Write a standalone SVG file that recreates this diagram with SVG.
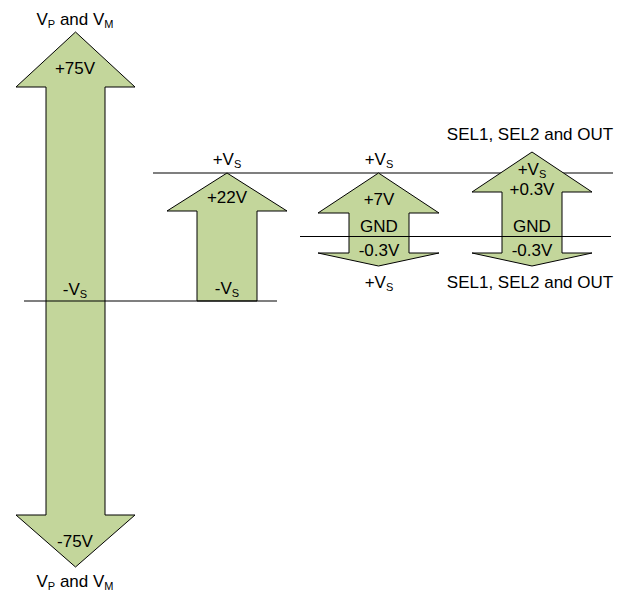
<svg xmlns="http://www.w3.org/2000/svg" width="629" height="592" viewBox="0 0 629 592">
<style>
.arr{fill:#c3d69b;stroke:#000;stroke-width:1;stroke-linejoin:miter}
.ln{stroke:#000;stroke-width:1.2;fill:none}
text{font-family:"Liberation Sans",Arial,sans-serif;font-size:17px;fill:#000;text-anchor:middle}
.sub{font-size:11px}
</style>
<rect width="629" height="592" fill="#fff"/>
<g id="connectors-top">
<line class="ln" x1="153" y1="173" x2="613" y2="173"/>
</g>
<g id="vpvm">
<path class="arr" d="M75.5,32 L135,87 L105,87 L105,515 L135,515 L75.5,567 L16,515 L46,515 L46,87 L16,87 Z"/>
<text x="75" y="25">V<tspan class="sub" dy="3">P</tspan><tspan dy="-3"> and V</tspan><tspan class="sub" dy="3">M</tspan></text>
<text x="75" y="74">+75V</text>
<text x="75" y="547">-75V</text>
<text x="75" y="587">V<tspan class="sub" dy="3">P</tspan><tspan dy="-3"> and V</tspan><tspan class="sub" dy="3">M</tspan></text>
</g>
<g id="vs">
<path class="arr" d="M227,173 L287,211 L257,211 L257,301 L197,301 L197,211 L167,211 Z"/>
<text x="227" y="165">+V<tspan class="sub" dy="3">S</tspan></text>
<text x="227" y="203">+22V</text>
<text x="227" y="294">-V<tspan class="sub" dy="3">S</tspan></text>
</g>
<g id="vl">
<path class="arr" d="M378.5,173 L439,213 L409,213 L409,253 L439,253 L378.5,266 L318,253 L349,253 L349,213 L318,213 Z"/>
<text x="379" y="165">+V<tspan class="sub" dy="3">S</tspan></text>
<text x="379" y="205">+7V</text>
<text x="379" y="232">GND</text>
<text x="379" y="256">-0.3V</text>
<text x="379" y="288">+V<tspan class="sub" dy="3">S</tspan></text>
</g>
<g id="sel">
<path class="arr" d="M532,152 L592,192 L562,192 L562,253 L592,253 L532,266 L472,253 L502,253 L502,192 L472,192 Z"/>
<text x="530" y="140">SEL1, SEL2 and OUT</text>
<text x="532" y="175">+V<tspan class="sub" dy="3">S</tspan></text>
<text x="532" y="195">+0.3V</text>
<text x="532" y="232">GND</text>
<text x="532" y="256">-0.3V</text>
<text x="530" y="288">SEL1, SEL2 and OUT</text>
</g>
<g id="connectors">
<line class="ln" x1="300" y1="236.5" x2="611" y2="236.5"/>
<line class="ln" x1="24" y1="301" x2="277" y2="301"/>
</g>
<text x="75" y="295">-V<tspan class="sub" dy="3">S</tspan></text>
</svg>
